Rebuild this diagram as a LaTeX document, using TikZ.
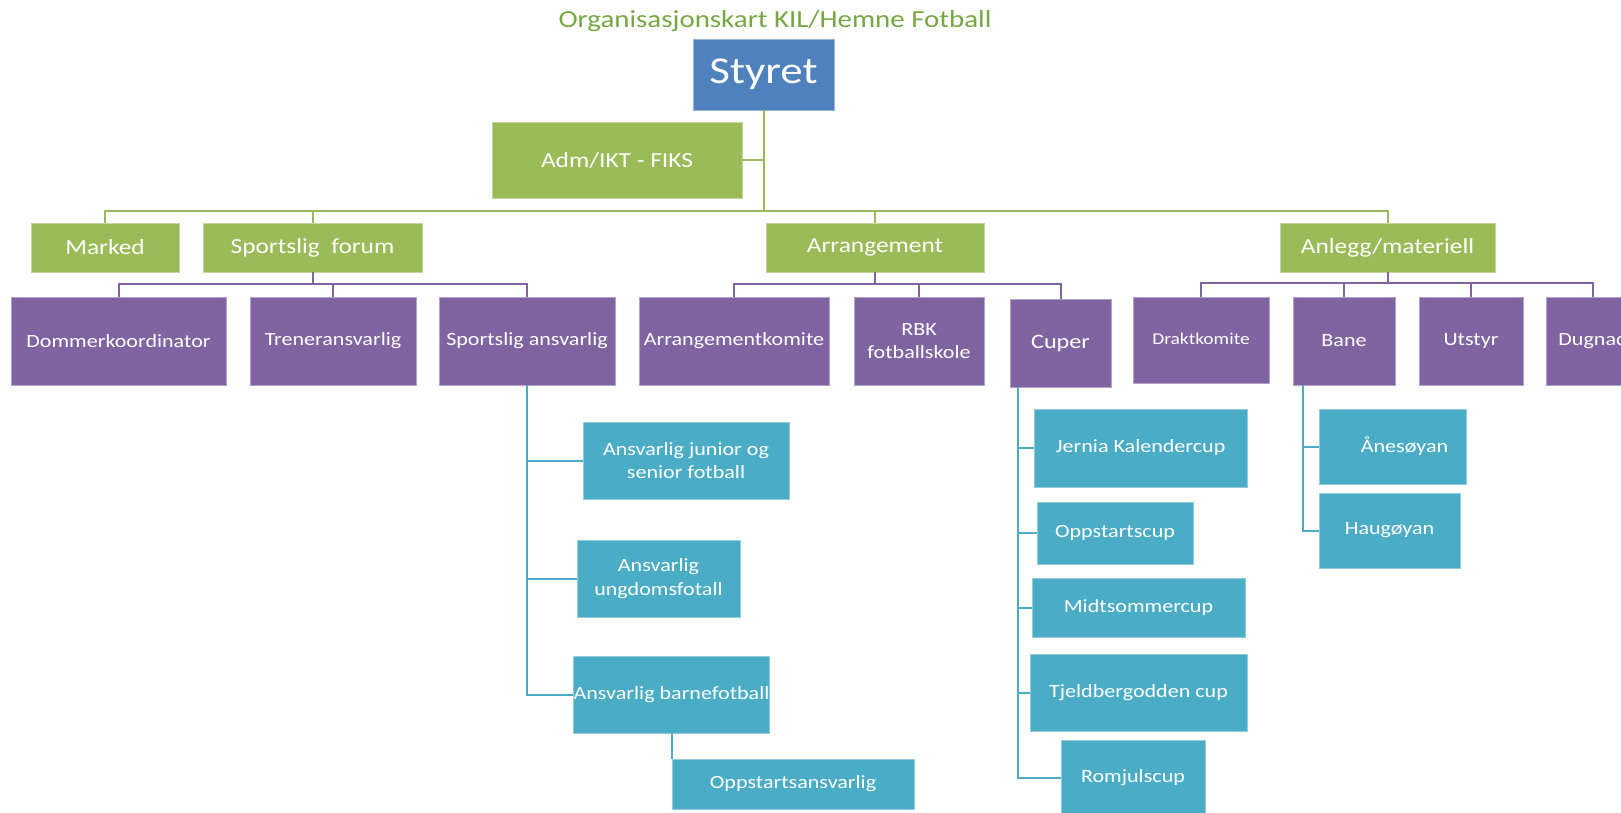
\documentclass[tikz,border=0pt]{standalone}
\usepackage{fontspec}
\setmainfont{Carlito}[FakeStretch=1.18]
\definecolor{cblue}{HTML}{4F81BD}
\definecolor{cgreen}{HTML}{9BBB59}
\definecolor{cpurple}{HTML}{8064A2}
\definecolor{cteal}{HTML}{4BACC6}
\definecolor{ctitle}{HTML}{76A743}
\newcommand\fgreen{\fontsize{21.5}{26}\selectfont}
\newcommand\fpurp{\fontsize{18.7}{23.5}\selectfont}
\begin{document}
\begin{tikzpicture}[x=1pt,y=-1pt,
  box/.style={inner sep=0pt, text=white, align=center, anchor=center},
  bluebox/.style={box, fill=cblue, draw=cblue!60!white, line width=0.8pt, font=\fontsize{38}{44}\selectfont},
  greenbox/.style={box, fill=cgreen, draw=cgreen!60!white, line width=0.8pt, font=\fgreen},
  purpbox/.style={box, fill=cpurple, draw=cpurple!60!white, line width=0.8pt, font=\fpurp},
  tealbox/.style={box, fill=cteal, draw=cteal!60!white, line width=0.8pt, font=\fpurp},
  gline/.style={draw=cgreen, line width=2pt},
  pline/.style={draw=cpurple, line width=2pt},
  tline/.style={draw=cteal, line width=2pt}]
\clip (0,0) rectangle (1621,812);
\fill[white] (0,0) rectangle (1621,812);

\node[text=ctitle, font=\fontsize{24.5}{29}\selectfont, inner sep=0pt] (title) at (775,21) {Organisasjonskart KIL/Hemne Fotball};

\node[bluebox, minimum width=141pt, minimum height=71pt] (styret) at (763.5,74.5) {Styret};
\node[greenbox, minimum width=250pt, minimum height=76pt] (adm) at (617,160) {Adm/IKT - FIKS};

\node[greenbox, minimum width=148pt, minimum height=49pt] (marked) at (105,247.5) {Marked};
\node[greenbox, minimum width=219pt, minimum height=49pt] (forum) at (312.5,247.5) {Sportslig\ \ forum};
\node[greenbox, minimum width=218pt, minimum height=49pt] (arr) at (875,247.5) {Arrangement};
\node[greenbox, minimum width=215pt, minimum height=49pt] (anlegg) at (1387.5,247.5) {Anlegg/materiell};

\node[purpbox, minimum width=215pt, minimum height=88pt] (dommer) at (118.5,341) {Dommerkoordinator};
\node[purpbox, minimum width=166pt, minimum height=88pt] (trener) at (333,341) {Treneransvarlig};
\node[purpbox, minimum width=176pt, minimum height=88pt] (sa) at (527,341) {Sportslig ansvarlig};
\node[purpbox, minimum width=190pt, minimum height=88pt] (arrkom) at (734,341) {Arrangementkomite};
\node[purpbox, minimum width=130pt, minimum height=88pt] (rbk) at (919,341) {RBK\\fotballskole};
\node[purpbox, minimum width=101pt, minimum height=88pt, font=\fontsize{20.5}{24}\selectfont] (cuper) at (1060.5,343) {Cuper};
\node[purpbox, minimum width=136pt, minimum height=86pt, font=\fontsize{16.5}{20}\selectfont] (drakt) at (1201,340) {\raisebox{3pt}{Draktkomite}};
\node[purpbox, minimum width=102pt, minimum height=88pt] (bane) at (1344,341) {Bane};
\node[purpbox, minimum width=104pt, minimum height=88pt] (utstyr) at (1471,341) {Utstyr};
\node[purpbox, minimum width=94pt, minimum height=88pt] (dugnad) at (1593,341) {Dugnad};

\node[tealbox, minimum width=206pt, minimum height=77pt] (junior) at (686,460.5) {Ansvarlig junior og\\senior fotball};
\node[tealbox, minimum width=163pt, minimum height=77pt] (ungdom) at (658.5,578.5) {Ansvarlig\\ungdomsfotall};
\node[tealbox, minimum width=191pt, minimum height=77pt] (barne) at (671.5,694.5) {Ansvarlig barnefotball};
\node[tealbox, minimum width=242pt, minimum height=50pt] (oppans) at (793,784) {Oppstartsansvarlig};

\node[tealbox, minimum width=213pt, minimum height=78pt] (jernia) at (1140.5,448) {\raisebox{2pt}{Jernia Kalendercup}};
\node[tealbox, minimum width=156pt, minimum height=62pt] (oppcup) at (1115,533) {Oppstartscup};
\node[tealbox, minimum width=213pt, minimum height=59pt] (midt) at (1138.5,607.5) {Midtsommercup};
\node[tealbox, minimum width=217pt, minimum height=77pt] (tjeld) at (1138.5,692.5) {Tjeldbergodden cup};
\node[tealbox, minimum width=144pt, minimum height=75pt] (romjul) at (1133,777.5) {Romjulscup};

\node[tealbox, minimum width=147pt, minimum height=75pt] (anes) at (1392.5,446.5) {\hspace*{24pt}\raisebox{2pt}{Ånesøyan}};
\node[tealbox, minimum width=141pt, minimum height=75pt] (haug) at (1389.5,530.5) {Haugøyan};

% green connectors
\foreach \c in {marked,forum,arr,anlegg}
  \draw[gline] (styret.south) -- ++(0,101) -| (\c.north);
\draw[gline] (adm.east) -- (adm.east -| styret.south);

% purple connectors
\foreach \c in {dommer,trener,sa}
  \draw[pline] (forum.south) -- ++(0,12) -| (\c.north);
\foreach \c in {arrkom,rbk,cuper}
  \draw[pline] (arr.south) -- ++(0,12) -| (\c.north);
\foreach \c in {drakt,bane,utstyr,dugnad}
  \draw[pline] (anlegg.south) -- ++(0,11) -| (\c.north);

% teal connectors
\foreach \c in {junior,ungdom,barne}
  \draw[tline] (sa.south) |- (\c.west);
\draw[tline] (barne.south) -- (barne.south |- oppans.north);

\coordinate (cuptrunk) at ([xshift=8pt]cuper.south west);
\foreach \c in {jernia,oppcup,midt,tjeld,romjul}
  \draw[tline] (cuptrunk) |- (\c.west);

\coordinate (banetrunk) at ([xshift=10pt]bane.south west);
\foreach \c in {anes,haug}
  \draw[tline] (banetrunk) |- (\c.west);
\end{tikzpicture}
\end{document}
